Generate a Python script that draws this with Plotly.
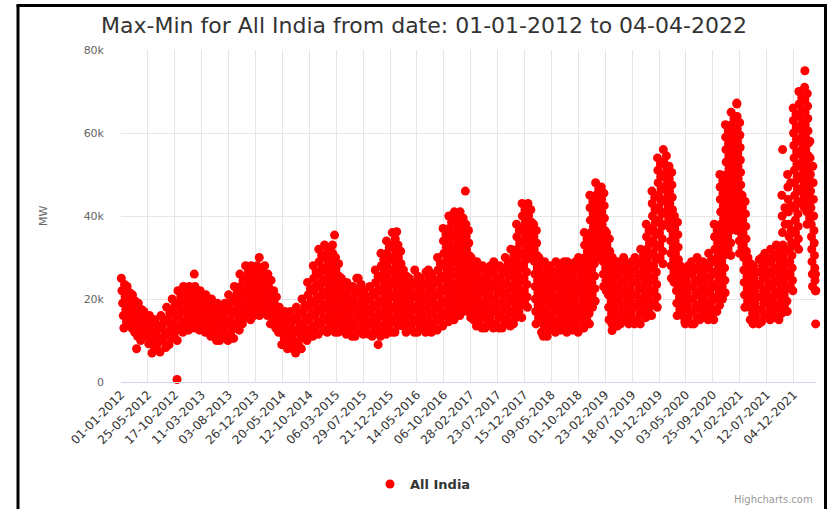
import calendar
import pandas as pd
import plotly.graph_objects as go

# Daily max-min spread, All India, in thousand MW.
# One list per month; the values of a month are spread evenly over its days.
y2012 = [
    [25, 22, 19, 16, 13, 23.5, 20.5, 17.5, 14.5],
    [23, 20, 17, 14, 21.5, 18.5, 15.5, 13],
    [21, 18, 15, 12, 19.5, 16.5, 13.5, 11],
    [19, 16, 13, 10, 17.5, 14.5, 11.5],
    [17, 14, 11, 15.5, 12.5, 9.2],
    [16, 13, 10, 7, 14.5, 11.5, 8.5],
    [15, 12, 9, 13.5, 10.5, 7.2],
    [16, 13, 10, 14.5, 11.5, 8.3],
    [18, 15, 12, 9, 16.5, 13.5, 10.5],
    [20, 17, 14, 11, 18.5, 15.5, 12.5, 10],
    [22, 19, 16, 13, 20.5, 17.5, 14.5, 12],
    [23, 20, 17, 14, 21.5, 18.5, 15.5, 12.5],
]
y2013 = [
    [23, 20, 17, 14, 21.5, 18.5, 15.5, 13],
    [23, 20, 17, 14, 21.5, 18.5, 15.5, 12.5],
    [22, 19, 16, 13, 20.5, 17.5, 14.5, 12],
    [21, 18, 15, 12, 19.5, 16.5, 13.5, 11],
    [20, 17, 14, 11, 18.5, 15.5, 12.5, 10],
    [19, 16, 13, 10, 17.5, 14.5, 11.5],
    [18.5, 15.5, 12.5, 19, 17, 14, 11, 10],
    [21, 18, 15, 12, 19.5, 16.5, 13.5, 10.5],
    [23, 20, 17, 14, 21.5, 18.5, 15.5, 12.5],
    [26, 23, 20, 17, 14, 24.5, 21.5, 18.5, 15.5],
    [28, 25, 22, 19, 16, 26.5, 23.5, 20.5, 17.5, 15],
    [28, 25, 22, 19, 16, 26.5, 23.5, 20.5, 17.5],
]
y2014 = [
    [28, 25, 22, 19, 16, 26.5, 23.5, 20.5, 17.5],
    [27.5, 24.5, 21.5, 18.5, 28, 26, 23, 20, 17, 16],
    [26, 23, 20, 17, 14, 24.5, 21.5, 18.5, 15.5],
    [22, 19, 16, 13, 20.5, 17.5, 14.5, 12],
    [18, 15, 12, 9, 16.5, 13.5, 10.5],
    [17, 14, 11, 8, 15.5, 12.5, 9.5],
    [17, 14, 11, 8, 15.5, 12.5, 9.5, 7],
    [18, 15, 12, 9, 16.5, 13.5, 10.5, 8],
    [20, 17, 14, 11, 18.5, 15.5, 12.5, 10],
    [24, 21, 18, 15, 12, 22.5, 19.5, 16.5, 13.5, 11],
    [28, 25, 22, 19, 16, 13, 26.5, 23.5, 20.5, 17.5, 14.5, 11.5],
    [32, 29, 26, 23, 20, 17, 14, 30.5, 27.5, 24.5, 21.5, 18.5, 15.5, 12.5],
]
y2015 = [
    [33, 30, 27, 24, 21, 18, 15, 12, 31.5, 28.5, 25.5, 22.5, 19.5, 16.5, 13.5],
    [32.5, 29.5, 26.5, 23.5, 20.5, 17.5, 14.5, 33, 31, 28, 25, 22, 19, 16, 13, 12],
    [30, 27, 24, 21, 18, 15, 12, 28.5, 25.5, 22.5, 19.5, 16.5, 13.5],
    [25, 22, 19, 16, 13, 23.5, 20.5, 17.5, 14.5, 11.5],
    [24, 21, 18, 15, 12, 22.5, 19.5, 16.5, 13.5, 11],
    [23, 20, 17, 14, 11, 21.5, 18.5, 15.5, 12.5],
    [25, 22, 19, 16, 13, 23.5, 20.5, 17.5, 14.5, 11.5],
    [22, 19, 16, 13, 20.5, 17.5, 14.5, 11.5],
    [23, 20, 17, 14, 11, 21.5, 18.5, 15.5, 12.5],
    [27, 24, 21, 18, 15, 12, 25.5, 22.5, 19.5, 16.5, 13.5, 11],
    [31, 28, 25, 22, 19, 16, 13, 29.5, 26.5, 23.5, 20.5, 17.5, 14.5, 11.5],
    [34, 31, 28, 25, 22, 19, 16, 13, 32.5, 29.5, 26.5, 23.5, 20.5, 17.5, 14.5, 12],
]
y2016 = [
    [36, 33, 30, 27, 24, 21, 18, 15, 12, 34.5, 31.5, 28.5, 25.5, 22.5, 19.5, 16.5, 13.5],
    [33, 30, 27, 24, 21, 18, 15, 31.5, 28.5, 25.5, 22.5, 19.5, 16.5, 13.5],
    [27, 24, 21, 18, 15, 12, 25.5, 22.5, 19.5, 16.5, 13.5],
    [25, 22, 19, 16, 13, 23.5, 20.5, 17.5, 14.5, 12],
    [27, 24, 21, 18, 15, 12, 25.5, 22.5, 19.5, 16.5, 13.5],
    [25, 22, 19, 16, 13, 23.5, 20.5, 17.5, 14.5, 12],
    [26.5, 23.5, 20.5, 17.5, 14.5, 27, 25, 22, 19, 16, 13, 12],
    [26, 23, 20, 17, 14, 24.5, 21.5, 18.5, 15.5, 12.5],
    [30, 27, 24, 21, 18, 15, 28.5, 25.5, 22.5, 19.5, 16.5, 13.5],
    [37, 34, 31, 28, 25, 22, 19, 16, 35.5, 32.5, 29.5, 26.5, 23.5, 20.5, 17.5, 14.5],
    [40, 37, 34, 31, 28, 25, 22, 19, 16, 38.5, 35.5, 32.5, 29.5, 26.5, 23.5, 20.5, 17.5, 15],
    [41, 38, 35, 32, 29, 26, 23, 20, 17, 39.5, 36.5, 33.5, 30.5, 27.5, 24.5, 21.5, 18.5, 16],
]
y2017 = [
    [41, 38, 35, 32, 29, 26, 23, 20, 17, 39.5, 36.5, 33.5, 30.5, 27.5, 24.5, 21.5, 18.5],
    [38, 35, 32, 29, 26, 23, 20, 17, 36.5, 33.5, 30.5, 27.5, 24.5, 21.5, 18.5, 15.5],
    [30, 27, 24, 21, 18, 15, 28.5, 25.5, 22.5, 19.5, 16.5, 13.5],
    [29, 26, 23, 20, 17, 14, 27.5, 24.5, 21.5, 18.5, 15.5, 13],
    [28, 25, 22, 19, 16, 13, 26.5, 23.5, 20.5, 17.5, 14.5],
    [27.5, 24.5, 21.5, 18.5, 15.5, 28, 26, 23, 20, 17, 14, 13],
    [29, 26, 23, 20, 17, 14, 27.5, 24.5, 21.5, 18.5, 15.5, 13],
    [28, 25, 22, 19, 16, 13, 26.5, 23.5, 20.5, 17.5, 14.5],
    [30, 27, 24, 21, 18, 15, 28.5, 25.5, 22.5, 19.5, 16.5, 13.5],
    [32, 29, 26, 23, 20, 17, 14, 30.5, 27.5, 24.5, 21.5, 18.5, 15.5],
    [38, 35, 32, 29, 26, 23, 20, 17, 36.5, 33.5, 30.5, 27.5, 24.5, 21.5, 18.5, 15.5],
    [43, 40, 37, 34, 31, 28, 25, 22, 19, 41.5, 38.5, 35.5, 32.5, 29.5, 26.5, 23.5, 20.5, 18],
]
y2018 = [
    [43, 40, 37, 34, 31, 41.5, 38.5, 35.5, 32.5, 29.5],
    [38, 35, 32, 29, 26, 23, 20, 17, 14, 36.5, 33.5, 30.5, 27.5, 24.5, 21.5, 18.5, 15.5],
    [30, 27, 24, 21, 18, 15, 12, 28.5, 25.5, 22.5, 19.5, 16.5, 13.5],
    [29, 26, 23, 20, 17, 14, 11, 27.5, 24.5, 21.5, 18.5, 15.5, 12.5],
    [28, 25, 22, 19, 16, 13, 26.5, 23.5, 20.5, 17.5, 14.5, 12],
    [29, 26, 23, 20, 17, 14, 27.5, 24.5, 21.5, 18.5, 15.5, 12.5],
    [28.5, 25.5, 22.5, 19.5, 16.5, 13.5, 29, 27, 24, 21, 18, 15, 12],
    [29, 26, 23, 20, 17, 14, 27.5, 24.5, 21.5, 18.5, 15.5, 12.5],
    [28.5, 25.5, 22.5, 19.5, 16.5, 13.5, 29, 27, 24, 21, 18, 15, 12],
    [30, 27, 24, 21, 18, 15, 28.5, 25.5, 22.5, 19.5, 16.5, 13.5, 13],
    [36, 33, 30, 27, 24, 21, 18, 15, 34.5, 31.5, 28.5, 25.5, 22.5, 19.5, 16.5, 14],
    [45, 42, 39, 36, 33, 30, 27, 24, 21, 18, 43.5, 40.5, 37.5, 34.5, 31.5, 28.5, 25.5, 22.5, 19.5],
]
y2019 = [
    [48, 45, 42, 39, 36, 33, 30, 46.5, 43.5, 40.5, 37.5, 34.5, 31.5],
    [47, 44, 41, 38, 35, 32, 29, 26, 23, 45.5, 42.5, 39.5, 36.5, 33.5, 30.5, 27.5, 24.5, 22],
    [36, 33, 30, 27, 24, 21, 18, 15, 34.5, 31.5, 28.5, 25.5, 22.5, 19.5, 16.5, 14],
    [30, 27, 24, 21, 18, 15, 28.5, 25.5, 22.5, 19.5, 16.5, 13.5],
    [29, 26, 23, 20, 17, 14, 27.5, 24.5, 21.5, 18.5, 15.5],
    [30, 27, 24, 21, 18, 15, 28.5, 25.5, 22.5, 19.5, 16.5, 14],
    [28.5, 25.5, 22.5, 19.5, 16.5, 29, 27, 24, 21, 18, 15, 14],
    [30, 27, 24, 21, 18, 15, 28.5, 25.5, 22.5, 19.5, 16.5, 14],
    [32, 29, 26, 23, 20, 17, 30.5, 27.5, 24.5, 21.5, 18.5, 15.5],
    [38, 35, 32, 29, 26, 23, 20, 17, 36.5, 33.5, 30.5, 27.5, 24.5, 21.5, 18.5, 16],
    [46, 43, 40, 37, 34, 31, 28, 25, 22, 19, 44.5, 41.5, 38.5, 35.5, 32.5, 29.5, 26.5, 23.5, 20.5, 18],
    [54, 51, 48, 45, 42, 39, 36, 33, 30, 52.5, 49.5, 46.5, 43.5, 40.5, 37.5, 34.5, 31.5, 28.5],
]
y2020 = [
    [56, 53, 50, 47, 44, 41, 38, 54.5, 51.5, 48.5, 45.5, 42.5, 39.5],
    [52, 49, 46, 43, 40, 37, 34, 31, 28, 25, 50.5, 47.5, 44.5, 41.5, 38.5, 35.5, 32.5, 29.5, 26.5, 24],
    [40, 37, 34, 31, 28, 25, 22, 19, 16, 38.5, 35.5, 32.5, 29.5, 26.5, 23.5, 20.5, 17.5],
    [28, 25, 22, 19, 16, 26.5, 23.5, 20.5, 17.5, 14.5, 14],
    [27.5, 24.5, 21.5, 18.5, 15.5, 28, 26, 23, 20, 17, 14],
    [29, 26, 23, 20, 17, 14, 27.5, 24.5, 21.5, 18.5, 15.5],
    [30, 27, 24, 21, 18, 15, 28.5, 25.5, 22.5, 19.5, 16.5],
    [29, 26, 23, 20, 17, 27.5, 24.5, 21.5, 18.5, 15.5, 15],
    [31, 28, 25, 22, 19, 16, 29.5, 26.5, 23.5, 20.5, 17.5, 15],
    [38, 35, 32, 29, 26, 23, 20, 17, 36.5, 33.5, 30.5, 27.5, 24.5, 21.5, 18.5],
    [50, 47, 44, 41, 38, 35, 32, 29, 26, 23, 20, 48.5, 45.5, 42.5, 39.5, 36.5, 33.5, 30.5, 27.5, 24.5, 21.5],
    [62, 59, 56, 53, 50, 47, 44, 41, 38, 35, 32, 60.5, 57.5, 54.5, 51.5, 48.5, 45.5, 42.5, 39.5, 36.5, 33.5, 30.5],
]
y2021 = [
    [65, 62, 59, 56, 53, 50, 47, 44, 41, 38, 63.5, 60.5, 57.5, 54.5, 51.5, 48.5, 45.5, 42.5, 39.5, 36.5],
    [67, 64, 61, 58, 55, 52, 49, 46, 43, 40, 37, 34, 31, 62.5, 59.5, 56.5, 53.5, 50.5, 47.5, 44.5, 41.5, 38.5, 35.5, 32.5],
    [45, 42, 39, 36, 33, 30, 27, 24, 21, 18, 43.5, 40.5, 37.5, 34.5, 31.5, 28.5, 25.5, 22.5, 19.5],
    [30, 27, 24, 21, 18, 15, 28.5, 25.5, 22.5, 19.5, 16.5, 14],
    [28, 25, 22, 19, 16, 26.5, 23.5, 20.5, 17.5, 14.5, 14],
    [29.5, 26.5, 23.5, 20.5, 17.5, 14.5, 30, 28, 25, 22, 19, 16],
    [31, 28, 25, 22, 19, 16, 29.5, 26.5, 23.5, 20.5, 17.5, 15],
    [32, 29, 26, 23, 20, 17, 30.5, 27.5, 24.5, 21.5, 18.5, 15.5],
    [33, 30, 27, 24, 21, 18, 15, 31.5, 28.5, 25.5, 22.5, 19.5, 16.5],
    [45, 40, 36, 33, 30, 27, 24, 21, 18, 42, 38, 31.5, 28.5, 25.5, 22.5, 19.5, 17],
    [50, 47, 44, 41, 38, 35, 32, 29, 26, 23, 48, 42.5, 36.5, 33.5, 30.5, 27.5, 24.5, 22],
    [66, 63, 60, 57, 54, 51, 48, 45, 42, 39, 36, 33, 64.5, 61.5, 58.5, 55.5, 52.5, 49.5, 46.5, 43.5, 40.5, 37.5, 34.5, 32],
]
y2022 = [
    [70, 67, 64, 61, 58, 55, 52, 49, 46, 43, 68.5, 65.5, 62.5, 59.5, 56.5, 53.5, 50.5, 47.5, 44.5, 42],
    [71, 68, 65, 62, 59, 56, 53, 50, 47, 44, 41, 38, 69.5, 66.5, 63.5, 60.5, 57.5, 54.5, 51.5, 48.5, 45.5, 42.5, 39.5],
    [58, 54, 50, 46, 42, 38, 35, 32, 29, 26, 23, 52, 48, 44, 40, 36.5, 33.5, 30.5, 27.5, 24.5, 22],
    [26, 22, 24],
]

# Isolated days standing apart from the main band
outlier_dates = ["2012-03-25", "2012-10-29", "2013-01-30", "2014-01-15",
                 "2015-02-25", "2015-06-25", "2015-10-18", "2016-01-26",
                 "2017-01-30", "2018-03-26", "2019-04-01", "2021-02-01",
                 "2021-10-06", "2022-02-03", "2022-04-02"]
outlier_values = [8, 0.6, 26, 30, 35.4, 25, 9, 36.2, 46, 11, 12.4, 67.2,
                  56, 75, 14]

tick_labels = ["01-01-2012", "25-05-2012", "17-10-2012", "11-03-2013",
               "03-08-2013", "26-12-2013", "20-05-2014", "12-10-2014",
               "06-03-2015", "29-07-2015", "21-12-2015", "14-05-2016",
               "06-10-2016", "28-02-2017", "23-07-2017", "15-12-2017",
               "09-05-2018", "01-10-2018", "23-02-2019", "18-07-2019",
               "10-12-2019", "03-05-2020", "25-09-2020", "17-02-2021",
               "12-07-2021", "04-12-2021"]

y_ticks = [0, 20000, 40000, 60000, 80000]
y_tick_labels = ["0", "20k", "40k", "60k", "80k"]

start_date = pd.Timestamp("2012-01-01")
end_date = pd.Timestamp("2022-04-04")

years = [2012, 2013, 2014, 2015, 2016, 2017, 2018, 2019, 2020, 2021, 2022]
year_lists = [y2012, y2013, y2014, y2015, y2016, y2017, y2018, y2019,
              y2020, y2021, y2022]

xs, ys = [], []
for year, months in zip(years, year_lists):
    for mi, vals in enumerate(months):
        first = pd.Timestamp(year=year, month=mi + 1, day=1)
        ndays = calendar.monthrange(year, mi + 1)[1]
        ndays = min(ndays, (end_date - first).days + 1)
        for k, v in enumerate(vals):
            xs.append(first + pd.Timedelta(days=(k + 0.5) * ndays / len(vals)))
            ys.append(v * 1000)

for d, v in zip(outlier_dates, outlier_values):
    xs.append(pd.Timestamp(d))
    ys.append(v * 1000)

tick_vals = [pd.to_datetime(t, format="%d-%m-%Y") for t in tick_labels]

FONT = "DejaVu Sans"
W, H = 832, 511
L, R, T, B = 121, 16, 50, 129
PW, PH = W - L - R, H - T - B


def px(xp):
    return (xp - L) / PW


def py(yp):
    return (H - B - yp) / PH


fig = go.Figure()
fig.add_trace(go.Scatter(
    x=xs, y=ys, mode="markers", name="All India",
    marker=dict(color="#ff0000", size=9, line=dict(width=0)),
    cliponaxis=False,
))

fig.update_layout(
    width=W, height=H,
    margin=dict(l=L, r=R, t=T, b=B),
    paper_bgcolor="white", plot_bgcolor="white",
    font=dict(family=FONT, color="#333333"),
    title=dict(text="Max-Min for All India from date: 01-01-2012 to 04-04-2022",
               x=424 / W, xanchor="center", xref="container",
               y=1 - 25 / H, yanchor="middle", yref="container",
               font=dict(size=22, color="#333333", family=FONT)),
    xaxis=dict(type="date", range=[start_date, end_date],
               tickmode="array", tickvals=tick_vals, ticktext=tick_labels,
               tickangle=-45, tickfont=dict(size=12, color="#333333"),
               showgrid=True, gridcolor="#e6e6e6", gridwidth=1,
               showline=True, linecolor="#ccd6eb", linewidth=1,
               zeroline=False, ticks=""),
    yaxis=dict(range=[0, 80000], tickmode="array", tickvals=y_ticks,
               ticktext=y_tick_labels, tickfont=dict(size=11, color="#666666"),
               showgrid=True, gridcolor="#e6e6e6", gridwidth=1,
               zeroline=False, showline=False, ticks="",
               ticklabelstandoff=16),
    showlegend=True,
    legend=dict(orientation="h", x=px(423), xanchor="center",
                y=py(484), yanchor="middle",
                font=dict(size=13, color="#333333", family=FONT, weight="bold"),
                bgcolor="rgba(0,0,0,0)"),
    annotations=[
        dict(text="MW", xref="paper", yref="paper", x=px(43), y=0.5,
             textangle=-90, showarrow=False, xanchor="center", yanchor="middle",
             font=dict(size=11, color="#666666", family=FONT)),
        dict(text="Highcharts.com", xref="paper", yref="paper",
             x=px(815), y=py(499), xanchor="right", yanchor="middle",
             showarrow=False, font=dict(size=10, color="#999999", family=FONT)),
    ],
    shapes=[
        # frame around the exported chart: top, left, right edges
        dict(type="line", xref="paper", yref="paper", x0=px(16.5), x1=px(827),
             y0=py(5.5), y1=py(5.5), line=dict(color="black", width=3)),
        dict(type="line", xref="paper", yref="paper", x0=px(18), x1=px(18),
             y0=py(5), y1=py(H - 2), line=dict(color="black", width=3)),
        dict(type="line", xref="paper", yref="paper", x0=px(825.5), x1=px(825.5),
             y0=py(5), y1=py(H - 2), line=dict(color="black", width=3)),
    ],
)

fig.write_html("out.html")
